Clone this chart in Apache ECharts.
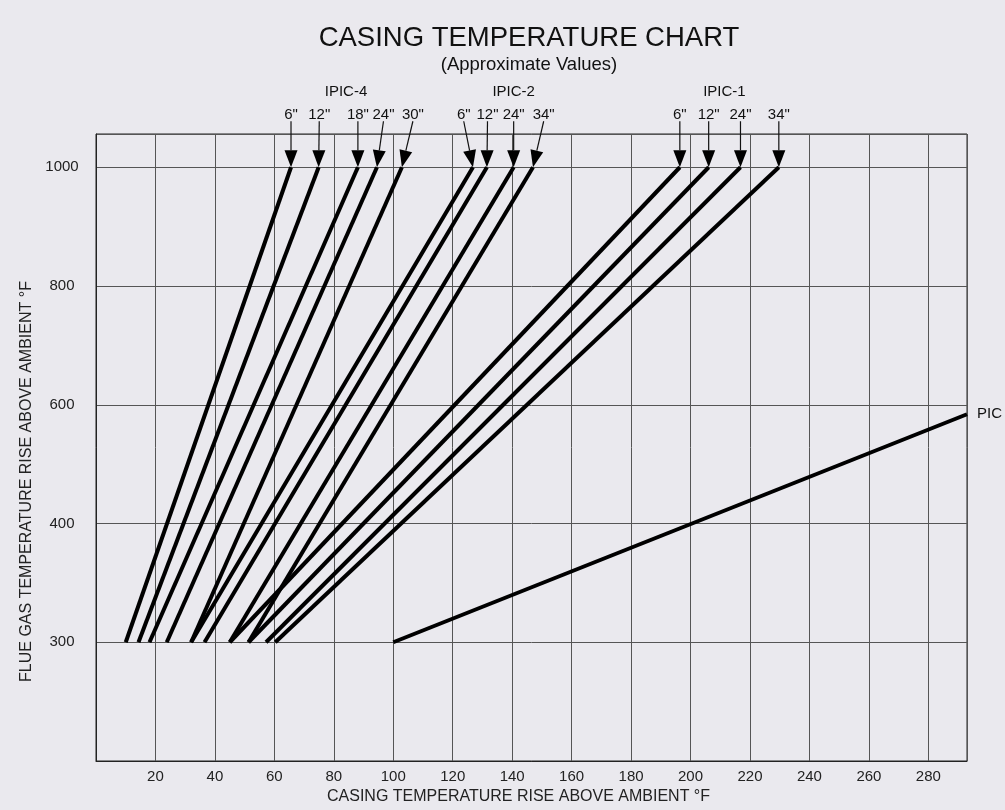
<!DOCTYPE html>
<html><head><meta charset="utf-8">
<script src="https://cdn.jsdelivr.net/npm/echarts@6/dist/echarts.min.js"></script>
<style>html,body{margin:0;padding:0;background:#eae9ee;} #chart{width:1005px;height:810px;}</style>
</head><body><div id="chart"></div>
<script>
const FONT = '"Liberation Sans", Arial, Helvetica, sans-serif';

// Flue gas tick labels (drawn equally spaced on the chart)
const yTickLabels = [300, 400, 600, 800, 1000];
const xMin = 0, xMax = 293, xStep = 20;

// IPIC-4 : casing temperature rise at 300 °F and 1000 °F flue gas rise
const ipic4Sizes = ['6"', '12"', '18"', '24"', '30"'];
const ipic4At300 = [10, 14.3, 18, 23.8, 32];
const ipic4At1000 = [65.6, 74.9, 88.1, 94.5, 102.9];
const ipic4LabelX = [65.6, 75.1, 88.1, 96.7, 106.6];

// IPIC-2
const ipic2Sizes = ['6"', '12"', '24"', '34"'];
const ipic2At300 = [32, 36.5, 45, 51.3];
const ipic2At1000 = [126.8, 131.5, 140.5, 147.0];
const ipic2LabelX = [123.7, 131.7, 140.5, 150.6];

// IPIC-1
const ipic1Sizes = ['6"', '12"', '24"', '34"'];
const ipic1At300 = [45, 51.3, 57.2, 60.3];
const ipic1At1000 = [196.4, 206.1, 216.8, 229.7];
const ipic1LabelX = [196.4, 206.1, 216.8, 229.7];

// PIC
const picCasing = [100, 293];
const picFlue = [300, 584];

const groupNames = ['IPIC-4', 'IPIC-2', 'IPIC-1'];
const groupLabelX = [84.1, 140.5, 211.4];

// map a flue-gas value onto the equally spaced tick positions (300 -> 1, 1000 -> 5)
function yPos(v) {
  const t = yTickLabels;
  if (v <= t[0]) return 1 - (t[0] - v) / (t[1] - t[0]);
  for (let i = 0; i < t.length - 1; i++) {
    if (v <= t[i + 1]) return i + 1 + (v - t[i]) / (t[i + 1] - t[i]);
  }
  const n = t.length;
  return n + (v - t[n - 1]) / (t[n - 1] - t[n - 2]);
}

const series = [];
function addGroup(sizes, at300, at1000, labelX, gname) {
  sizes.forEach((s, i) => {
    series.push({
      type: 'line', name: gname + ' ' + s,
      data: [[at300[i], yPos(300)], [at1000[i], yPos(1000)]],
      symbol: 'none', silent: true, z: 3,
      lineStyle: { color: '#000', width: 4, cap: 'butt' }
    });
  });
  series.push({
    type: 'custom', name: gname + ' arrows', silent: true, z: 5, clip: false,
    encode: { x: [0, 2], y: 1 },
    data: labelX.map((lx, i) => [lx, yPos(1000), at1000[i]]),
    renderItem: function (params, api) {
      const tip = api.coord([api.value(2), api.value(1)]);
      const topX = api.coord([api.value(0), api.value(1)])[0];
      const top = [topX, tip[1] - 46];
      const dx = tip[0] - top[0], dy = tip[1] - top[1];
      const len = Math.hypot(dx, dy);
      const ux = dx / len, uy = dy / len;
      const ah = 17, aw = 6.5;
      const base = [tip[0] - ux * ah, tip[1] - uy * ah];
      const px = -uy, py = ux;
      return {
        type: 'group',
        children: [
          { type: 'line', shape: { x1: top[0], y1: top[1], x2: base[0], y2: base[1] },
            style: { stroke: '#111', lineWidth: 1.2 } },
          { type: 'polygon',
            shape: { points: [tip, [base[0] + px * aw, base[1] + py * aw], [base[0] - px * aw, base[1] - py * aw]] },
            style: { fill: '#000' } },
          { type: 'text', x: top[0], y: top[1] + 1,
            style: { text: sizes[params.dataIndex], textAlign: 'center', textVerticalAlign: 'bottom',
                     font: '15px ' + FONT, fill: '#111' } }
        ]
      };
    }
  });
}
addGroup(ipic4Sizes, ipic4At300, ipic4At1000, ipic4LabelX, 'IPIC-4');
addGroup(ipic2Sizes, ipic2At300, ipic2At1000, ipic2LabelX, 'IPIC-2');
addGroup(ipic1Sizes, ipic1At300, ipic1At1000, ipic1LabelX, 'IPIC-1');

series.push({
  type: 'line', name: 'PIC',
  data: picCasing.map((c, i) => [c, yPos(picFlue[i])]),
  symbol: 'none', silent: true, z: 3,
  lineStyle: { color: '#000', width: 4, cap: 'butt' },
  endLabel: { show: true, formatter: 'PIC', distance: 10, fontSize: 15, color: '#111', fontFamily: FONT }
});

series.push({
  type: 'custom', name: 'group labels', silent: true, z: 5, clip: false,
  data: groupLabelX.map(x => [x, yPos(1000)]),
  renderItem: function (params, api) {
    const p = api.coord([api.value(0), api.value(1)]);
    return { type: 'text', x: p[0], y: p[1] - 75.5,
      style: { text: groupNames[params.dataIndex], textAlign: 'center', textVerticalAlign: 'middle',
               font: '15px ' + FONT, fill: '#111' } };
  }
});

const chart = echarts.init(document.getElementById('chart'), null, { renderer: 'canvas' });
chart.setOption({
  animation: false,
  backgroundColor: '#eae9ee',
  textStyle: { fontFamily: FONT },
  title: {
    text: 'CASING TEMPERATURE CHART',
    subtext: '(Approximate Values)',
    left: 524, top: 19, textAlign: 'center', itemGap: 3,
    textStyle: { fontSize: 27.5, fontWeight: 'normal', color: '#111', fontFamily: FONT },
    subtextStyle: { fontSize: 18.5, color: '#111', fontFamily: FONT }
  },
  grid: { left: 96, right: 38, top: 134, bottom: 47, show: true, borderColor: '#222', borderWidth: 1, backgroundColor: 'transparent' },
  xAxis: {
    type: 'value', min: xMin, max: xMax, interval: xStep,
    axisLine: { show: true, lineStyle: { color: '#222' } },
    axisTick: { show: false },
    axisLabel: { formatter: v => (v > 0 && Math.abs(v % xStep) < 1e-6) ? String(v) : '', fontSize: 15, margin: 8, color: '#222', fontFamily: FONT },
    splitLine: { show: true, lineStyle: { color: '#555', width: 1 } },
    name: 'CASING TEMPERATURE RISE ABOVE AMBIENT °F', nameLocation: 'middle', nameGap: 28,
    nameTextStyle: { fontSize: 16, color: '#222', fontFamily: FONT, padding: [0, 26, 0, 0] }
  },
  yAxis: {
    type: 'value', min: 0, max: 5.28, interval: 1,
    axisLine: { show: true, lineStyle: { color: '#222' } },
    axisTick: { show: false },
    axisLabel: {
      formatter: v => { const r = Math.round(v); return (Math.abs(v - r) < 1e-6 && r >= 1 && r <= yTickLabels.length) ? String(yTickLabels[r - 1]) : ''; },
      align: 'center', margin: 34, fontSize: 15, color: '#222', fontFamily: FONT
    },
    splitLine: { show: true, lineStyle: { color: '#555', width: 1 } },
    name: 'FLUE GAS TEMPERATURE RISE ABOVE AMBIENT °F', nameLocation: 'middle', nameGap: 58,
    nameTextStyle: { fontSize: 16, color: '#222', fontFamily: FONT, padding: [0, 68, 0, 0] }
  },
  series: series
});
</script>
</body></html>
